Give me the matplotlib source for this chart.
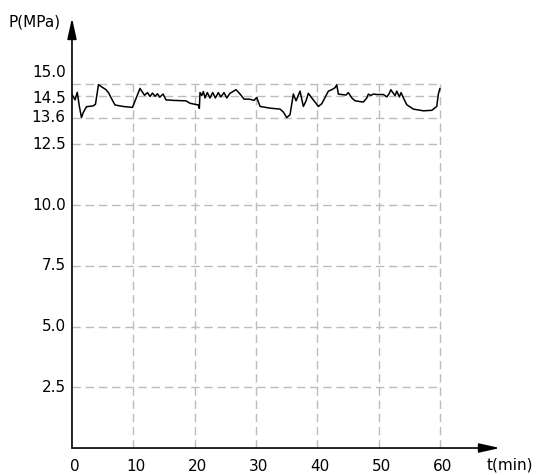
import matplotlib.pyplot as plt
from matplotlib.transforms import offset_copy

# pressure record
time_min = [
    0.0, 0.5, 0.86, 1.19, 1.55, 1.84, 2.37, 3.43, 3.83, 4.32, 4.81, 5.55,
    5.99, 6.41, 7.01, 8.32, 9.87, 11.09, 11.83, 12.32, 12.72, 13.13, 13.54,
    13.95, 14.31, 14.85, 15.33, 16.48, 18.60, 19.25, 20.60, 20.77, 20.88,
    21.16, 21.42, 21.70, 22.07, 22.51, 22.95, 23.38, 23.87, 24.26, 24.80,
    25.24, 25.77, 26.75, 27.41, 28.06, 28.92, 29.69, 30.13, 30.67, 32.30,
    33.93, 34.47, 35.02, 35.56, 36.10, 36.54, 37.19, 37.73, 38.17, 38.55,
    39.10, 39.48, 40.18, 40.73, 41.44, 41.81, 42.37, 42.90, 43.18, 43.44,
    44.00, 44.70, 45.07, 45.63, 46.17, 47.52, 48.08, 48.34, 48.73, 49.15,
    49.71, 50.78, 51.34, 51.76, 51.99, 52.32, 52.69, 52.97, 53.39, 53.67,
    54.05, 54.60, 55.68, 57.31, 58.68, 59.49, 59.75, 60.0,
]
pressure_mpa = [
    14.55, 14.33, 14.64, 14.08, 13.60, 13.81, 14.05, 14.08, 14.15, 14.96,
    14.87, 14.75, 14.61, 14.40, 14.12, 14.06, 14.02, 14.80, 14.52, 14.63,
    14.47, 14.61, 14.48, 14.58, 14.44, 14.57, 14.33, 14.31, 14.29, 14.19,
    14.12, 13.98, 14.63, 14.51, 14.67, 14.41, 14.63, 14.41, 14.63, 14.41,
    14.63, 14.45, 14.63, 14.41, 14.60, 14.75, 14.57, 14.36, 14.36, 14.31,
    14.43, 14.06, 13.99, 13.95, 13.83, 13.60, 13.72, 14.57, 14.29, 14.69,
    14.06, 14.29, 14.60, 14.41, 14.29, 14.06, 14.17, 14.51, 14.69, 14.75,
    14.83, 14.95, 14.57, 14.55, 14.53, 14.63, 14.41, 14.29, 14.24, 14.41,
    14.57, 14.51, 14.57, 14.55, 14.55, 14.45, 14.60, 14.75, 14.63, 14.51,
    14.69, 14.45, 14.63, 14.41, 14.13, 13.95, 13.88, 13.90, 14.06, 14.57,
    14.79,
]

x_ticks = [0, 10, 20, 30, 40, 50, 60]
y_ticks = [2.5, 5.0, 7.5, 10.0, 12.5, 13.6, 14.5, 15.0]
y_labels = ['2.5', '5.0', '7.5', '10.0', '12.5', '13.6', '14.5', '15.0']

# vertical nudge (points) so the crowded labels near the top do not overlap
label_nudge = {'15.0': 8, '14.5': -2}

grid_color = '#bcbcbc'
font_size = 11

fig = plt.figure(figsize=(5.4, 4.75), dpi=100)
ax = fig.add_axes([0.1333, 0.0568, 0.7926, 0.9053])
x_max, y_max = 69.8, 17.7
ax.set_xlim(0, x_max)
ax.set_ylim(0, y_max)
ax.axis('off')

top = max(y_ticks)
right = max(x_ticks)
for xv in x_ticks[1:]:
    ax.plot([xv, xv], [0, top], color=grid_color, lw=1, dashes=(6, 3.5), zorder=1)
for yv in y_ticks:
    ax.plot([0, right], [yv, yv], color=grid_color, lw=1, dashes=(6, 3.5), zorder=1)

ax.plot(time_min, pressure_mpa, color='black', lw=1.1, zorder=3)

# axes with arrow heads
arrow = dict(arrowstyle='-|>,head_length=0.9,head_width=0.2', color='black',
             lw=1.2, shrinkA=0, shrinkB=0, mutation_scale=14)
ax.annotate('', xy=(x_max, 0), xytext=(0, 0), arrowprops=arrow, annotation_clip=False)
ax.annotate('', xy=(0, y_max), xytext=(0, 0), arrowprops=arrow, annotation_clip=False)

for xv in x_ticks:
    t = offset_copy(ax.transData, fig=fig, x=2, y=-8, units='points')
    ax.text(xv, 0, str(xv), transform=t, ha='center', va='top', fontsize=font_size)

for yv, lab in zip(y_ticks, y_labels):
    t = offset_copy(ax.transData, fig=fig, x=-4.5, y=label_nudge.get(lab, 0), units='points')
    ax.text(0, yv, lab, transform=t, ha='right', va='center', fontsize=font_size)

fig.text(8 / 540, 1 - 22 / 475, 'P(MPa)', ha='left', va='center', fontsize=font_size)
fig.text(487 / 540, 1 - 465 / 475, 't(min)', ha='left', va='center', fontsize=font_size)

fig.savefig('out.png', dpi=100)
